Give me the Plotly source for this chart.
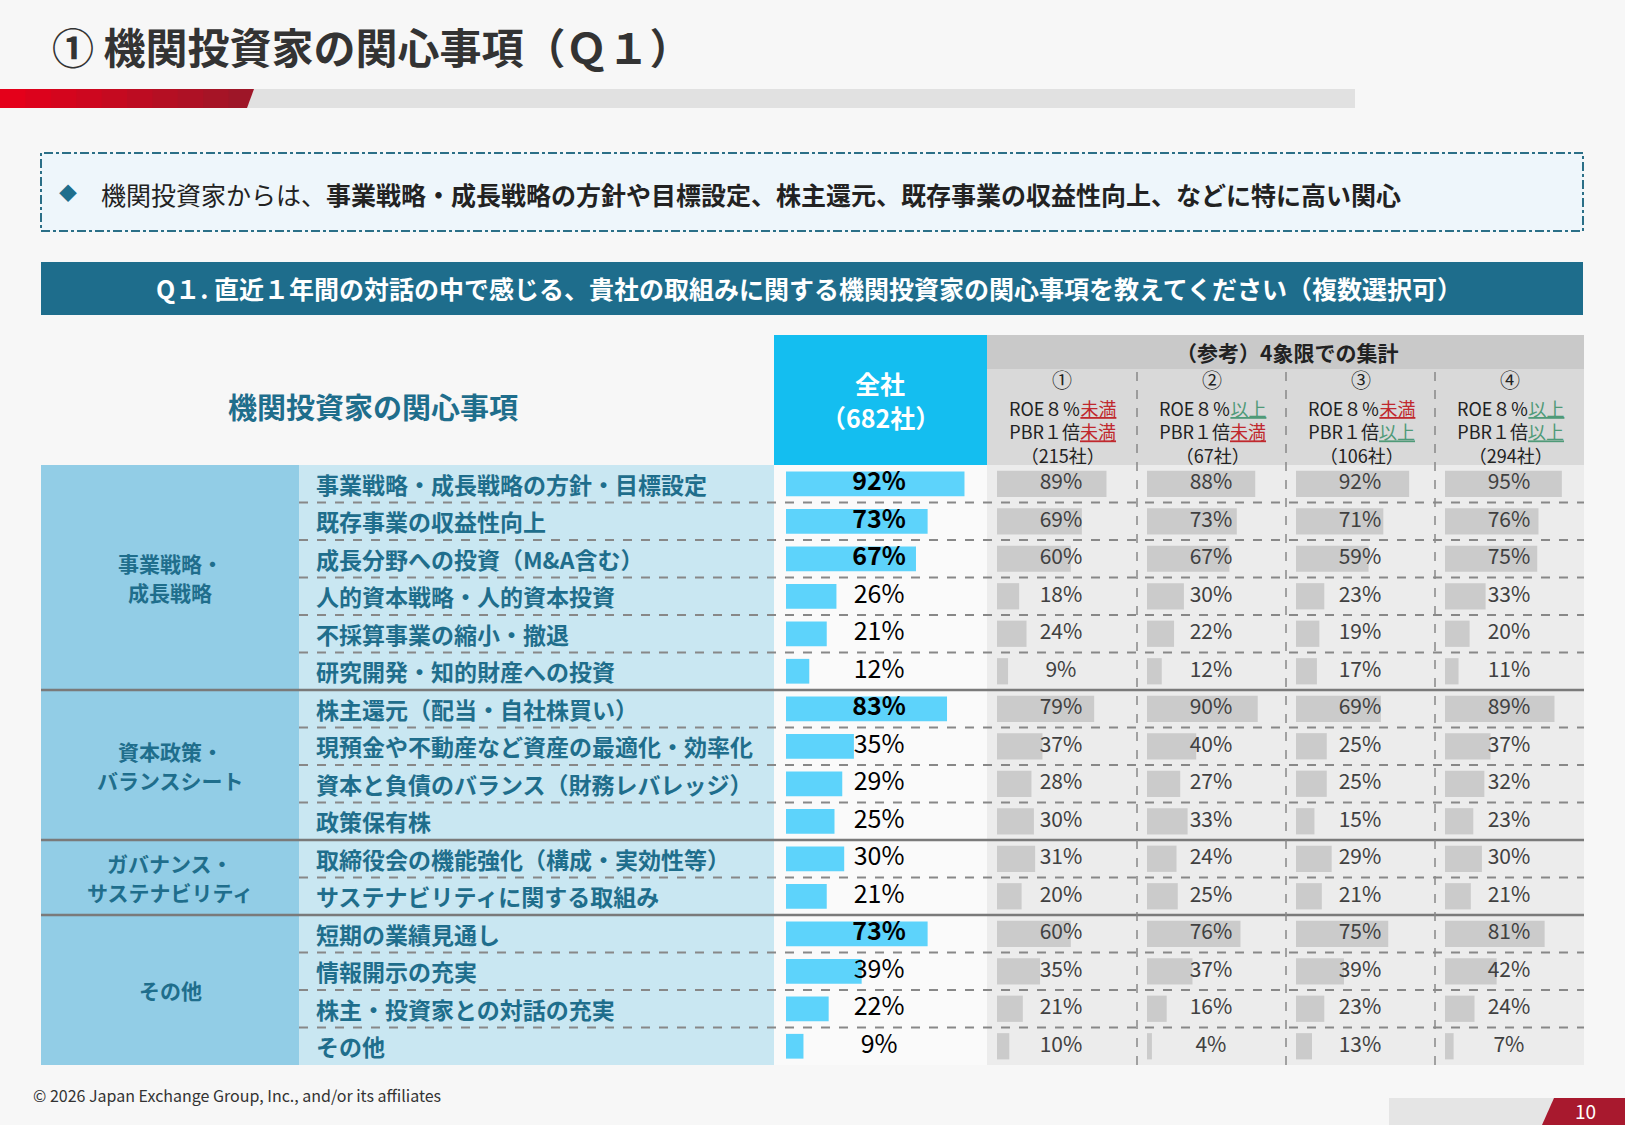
import plotly.graph_objects as go

# Données
items = [
    "事業戦略・成長戦略の方針・目標設定",
    "既存事業の収益性向上",
    "成長分野への投資（M&amp;A含む）",
    "人的資本戦略・人的資本投資",
    "不採算事業の縮小・撤退",
    "研究開発・知的財産への投資",
    "株主還元（配当・自社株買い）",
    "現預金や不動産など資産の最適化・効率化",
    "資本と負債のバランス（財務レバレッジ）",
    "政策保有株",
    "取締役会の機能強化（構成・実効性等）",
    "サステナビリティに関する取組み",
    "短期の業績見通し",
    "情報開示の充実",
    "株主・投資家との対話の充実",
    "その他",
]
groups = [["事業戦略・", "成長戦略"], ["資本政策・", "バランスシート"],
          ["ガバナンス・", "サステナビリティ"], ["その他"]]
group_sizes = [6, 4, 2, 4]

all_cos = [92, 73, 67, 26, 21, 12, 83, 35, 29, 25, 30, 21, 73, 39, 22, 9]
q1 = [89, 69, 60, 18, 24, 9, 79, 37, 28, 30, 31, 20, 60, 35, 21, 10]
q2 = [88, 73, 67, 30, 22, 12, 90, 40, 27, 33, 24, 25, 76, 37, 16, 4]
q3 = [92, 71, 59, 23, 19, 17, 69, 25, 25, 15, 29, 21, 75, 39, 23, 13]
q4 = [95, 76, 75, 33, 20, 11, 89, 37, 32, 23, 30, 21, 81, 42, 24, 7]
quadrants = [q1, q2, q3, q4]

quad_names = ["①", "②", "③", "④"]
quad_roe = ["未満", "以上", "未満", "以上"]
quad_pbr = ["未満", "未満", "以上", "以上"]
quad_counts = [215, 67, 106, 294]
total_count = 682

W, H = 1625, 1125
FONT = "Noto Sans CJK JP"
TEAL = "#1f6e8c"
RED_TXT = "#c0282d"
GREEN_TXT = "#4f9a78"


def px(x):
    return x / W


def py(y):
    return 1 - y / H


rows = list(range(len(items)))
top_px, row_h = 465, 37.5
bottom_px = top_px + row_h * len(items)

# Colonnes (pixels)
cat_x0, item_x0, all_x0, quad_x0, right_x = 41, 299, 774, 987, 1584
quad_cols = [987, 1137, 1286, 1435]
all_bar0, all_bar_w = 786, 194
quad_bar_off, quad_bar_w = 10, 123

fig = go.Figure()

# Barres "全社"
fig.add_trace(go.Bar(
    x=all_cos, y=rows, orientation="h", width=0.66,
    marker=dict(color="#5dd3fb", line_width=0),
    xaxis="x", yaxis="y", hoverinfo="skip",
))
fig.add_trace(go.Scatter(
    x=[48] * len(rows), y=rows, mode="text",
    text=[f"<b>{v}%</b>" if v >= 50 else f"{v}%" for v in all_cos],
    textfont=dict(family=FONT, size=25, color="#000000"),
    xaxis="x", yaxis="y", cliponaxis=False, hoverinfo="skip",
))

# Barres des 4 quadrants
for k, vals in enumerate(quadrants):
    ax = f"x{k + 2}"
    fig.add_trace(go.Bar(
        x=vals, y=rows, orientation="h", width=0.7,
        marker=dict(color="#cbcbcb", line_width=0),
        xaxis=ax, yaxis="y", hoverinfo="skip",
    ))
    fig.add_trace(go.Scatter(
        x=[52] * len(rows), y=rows, mode="text",
        text=[f"{v}%" for v in vals],
        textfont=dict(family=FONT, size=21, color="#404040"),
        xaxis=ax, yaxis="y", cliponaxis=False, hoverinfo="skip",
    ))

shapes = []
annotations = []

# Bandeau titre (rouge en dégradé approximé par tranches)
shapes.append(dict(type="rect", xref="paper", yref="paper",
                   x0=px(247), x1=px(1355), y0=py(108), y1=py(89),
                   fillcolor="#e1e1e1", line_width=0, layer="below"))
n_sl = 10
c0, c1 = (228, 0, 26), (158, 22, 40)
for j in range(n_sl):
    t = j / (n_sl - 1)
    col = "rgb({},{},{})".format(*[round(a + (b - a) * t) for a, b in zip(c0, c1)])
    xa, xb = 254 * j / n_sl, 254 * (j + 1) / n_sl
    xb_bot = xb - 7 if j == n_sl - 1 else xb + 0.8
    xb_top = xb if j == n_sl - 1 else xb + 0.8
    shapes.append(dict(type="path", xref="paper", yref="paper",
                       path=f"M {px(xa)} {py(89)} L {px(xb_top)} {py(89)} L {px(xb_bot)} {py(108)} L {px(xa)} {py(108)} Z",
                       fillcolor=col, line_width=0, layer="below"))
annotations.append(dict(text="<b>① 機関投資家の関心事項（Ｑ１）</b>", x=px(50), y=py(46),
                        xanchor="left", yanchor="middle",
                        font=dict(size=42, color="#333333")))

# Encadré pointillé
shapes.append(dict(type="rect", xref="paper", yref="paper",
                   x0=px(41), x1=px(1583), y0=py(231), y1=py(153),
                   fillcolor="#eef6fb", line=dict(color="#2b6f87", width=2, dash="dashdot"),
                   layer="below"))
annotations.append(dict(text="◆", x=px(68), y=py(192), xanchor="center", yanchor="middle",
                        font=dict(size=18, color=TEAL)))
annotations.append(dict(
    text="機関投資家からは、<b>事業戦略・成長戦略の方針や目標設定、株主還元、既存事業の収益性向上、などに特に高い関心</b>",
    x=px(99), y=py(194), xanchor="left", yanchor="middle",
    font=dict(size=25, color="#222222")))

# Bandeau question
shapes.append(dict(type="rect", xref="paper", yref="paper",
                   x0=px(41), x1=px(1583), y0=py(315), y1=py(262),
                   fillcolor="#1e6d8c", line_width=0, layer="below"))
annotations.append(dict(
    text="<b>Q１. 直近１年間の対話の中で感じる、貴社の取組みに関する機関投資家の関心事項を教えてください（複数選択可）</b>",
    x=px(809), y=py(288), xanchor="center", yanchor="middle",
    font=dict(size=25, color="white")))

# En-têtes du tableau
annotations.append(dict(text="<b>機関投資家の関心事項</b>", x=px(373), y=py(406),
                        xanchor="center", yanchor="middle", font=dict(size=29, color=TEAL)))
shapes.append(dict(type="rect", xref="paper", yref="paper",
                   x0=px(all_x0), x1=px(quad_x0), y0=py(top_px), y1=py(335),
                   fillcolor="#14bef0", line_width=0, layer="below"))
annotations.append(dict(text="<b>全社</b>", x=px(880), y=py(383), xanchor="center", yanchor="middle",
                        font=dict(size=25, color="white")))
annotations.append(dict(text=f"<b>（{total_count}社）</b>", x=px(880), y=py(417),
                        xanchor="center", yanchor="middle", font=dict(size=25, color="white")))
shapes.append(dict(type="rect", xref="paper", yref="paper",
                   x0=px(quad_x0), x1=px(right_x), y0=py(369), y1=py(335),
                   fillcolor="#c9c9c9", line_width=0, layer="below"))
shapes.append(dict(type="rect", xref="paper", yref="paper",
                   x0=px(quad_x0), x1=px(right_x), y0=py(top_px), y1=py(369),
                   fillcolor="#d9d9d9", line_width=0, layer="below"))
annotations.append(dict(text="<b>（参考）4象限での集計</b>", x=px(1287), y=py(352),
                        xanchor="center", yanchor="middle", font=dict(size=21, color="#222222")))


def cond(word):
    col = RED_TXT if word == "未満" else GREEN_TXT
    return f"<span style='color:{col}'><u>{word}</u></span>"


for k, c in enumerate(quad_cols):
    cx = px(c + 75)
    annotations.append(dict(text=quad_names[k], x=cx, y=py(380), xanchor="center", yanchor="middle",
                            font=dict(size=20, color="#222222")))
    block = (f"ROE８％{cond(quad_roe[k])}<br>PBR１倍{cond(quad_pbr[k])}"
             f"<br>（{quad_counts[k]}社）")
    annotations.append(dict(text=block, x=cx, y=py(431), xanchor="center", yanchor="middle",
                            font=dict(size=18, color="#222222")))

# Fonds des colonnes (en coordonnées de l'axe y)
y_lo, y_hi = -0.5, len(items) - 0.5
for x0, x1, col in [(cat_x0, item_x0, "#92cde6"), (item_x0, all_x0, "#c9e7f2"),
                    (all_x0, quad_x0, "#fafafa"), (quad_x0, right_x, "#ececec")]:
    shapes.append(dict(type="rect", xref="paper", yref="y", x0=px(x0), x1=px(x1),
                       y0=y_lo, y1=y_hi, fillcolor=col, line_width=0, layer="below"))

# Séparateurs de lignes
group_ends = []
acc = 0
for n in group_sizes:
    acc += n
    group_ends.append(acc)
for i in rows[1:]:
    if i in group_ends:
        shapes.append(dict(type="line", xref="paper", yref="y", x0=px(cat_x0), x1=px(right_x),
                           y0=i - 0.5, y1=i - 0.5, line=dict(color="#7a7a7a", width=2.5)))
    else:
        shapes.append(dict(type="line", xref="paper", yref="y", x0=px(item_x0), x1=px(right_x),
                           y0=i - 0.5, y1=i - 0.5, line=dict(color="#888888", width=2, dash="dash")))

# Séparateurs verticaux des quadrants
for c in quad_cols[1:]:
    shapes.append(dict(type="line", xref="paper", yref="paper", x0=px(c), x1=px(c),
                       y0=py(bottom_px), y1=py(369), line=dict(color="#888888", width=1.5, dash="dash")))

# Libellés des items et des groupes
for i, name in zip(rows, items):
    annotations.append(dict(text=f"<b>{name}</b>", xref="paper", yref="y", x=px(314), y=i,
                            xanchor="left", yanchor="middle", font=dict(size=23, color=TEAL)))
start = 0
line_gap = 29 / row_h  # écart entre les deux lignes, en unités de rangée
for g, n in zip(groups, group_sizes):
    mid = start + (n - 1) / 2
    for j, part in enumerate(g):
        off = (j - (len(g) - 1) / 2) * line_gap
        annotations.append(dict(text=f"<b>{part}</b>", xref="paper", yref="y", x=px(170),
                                y=mid + off, xanchor="center", yanchor="middle",
                                font=dict(size=21, color=TEAL)))
    start += n

# Pied de page
annotations.append(dict(text="© 2026 Japan Exchange Group, Inc., and/or its affiliates",
                        x=px(31), y=py(1095), xanchor="left", yanchor="middle",
                        font=dict(size=16, color="#333333")))
shapes.append(dict(type="rect", xref="paper", yref="paper", x0=px(1389), x1=1, y0=0, y1=py(1098),
                   fillcolor="#e5e5e5", line_width=0, layer="below"))
shapes.append(dict(type="path", xref="paper", yref="paper",
                   path=f"M {px(1554)} {py(1098)} L 1 {py(1098)} L 1 0 L {px(1542)} 0 Z",
                   fillcolor="#a8192e", line_width=0, layer="below"))
annotations.append(dict(text="10", x=px(1585), y=py(1110), xanchor="center", yanchor="middle",
                        font=dict(size=19, color="white")))

for a in annotations:
    a.setdefault("xref", "paper")
    a.setdefault("yref", "paper")
    a["showarrow"] = False

axis_off = dict(showgrid=False, zeroline=False, showticklabels=False, showline=False,
                ticks="", fixedrange=True)
layout = dict(
    width=W, height=H, autosize=False,
    margin=dict(l=0, r=0, t=0, b=0),
    paper_bgcolor="#f7f7f7", plot_bgcolor="rgba(0,0,0,0)",
    font=dict(family=FONT, color="#222222"),
    showlegend=False, hovermode=False,
    shapes=shapes, annotations=annotations,
    yaxis=dict(domain=[py(bottom_px), py(top_px)], range=[y_hi, y_lo], anchor="x", **axis_off),
    xaxis=dict(domain=[px(all_bar0), px(all_bar0 + all_bar_w)], range=[0, 100], anchor="y", **axis_off),
)
for k, c in enumerate(quad_cols):
    x0 = c + quad_bar_off
    layout[f"xaxis{k + 2}"] = dict(domain=[px(x0), px(x0 + quad_bar_w)], range=[0, 100],
                                   anchor="y", **axis_off)
fig.update_layout(**layout)

# marge par défaut du navigateur supprimée pour que la figure remplisse la fenêtre
fig.write_html("out.html", config={"displayModeBar": False},
               post_script="document.body.style.margin='0';")
